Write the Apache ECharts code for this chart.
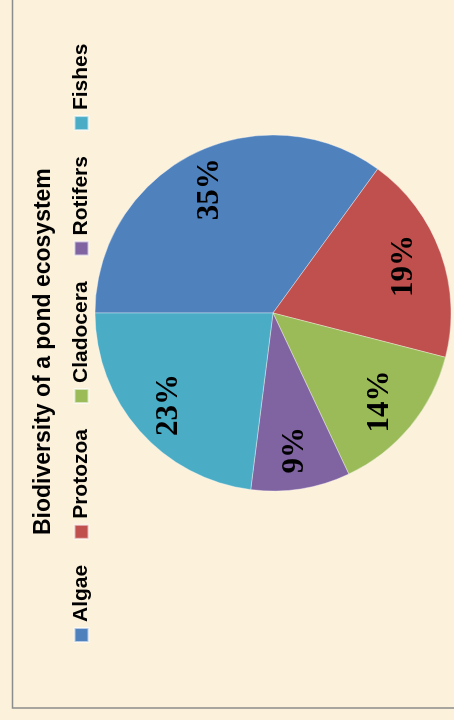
<!DOCTYPE html>
<html>
<head>
<meta charset="utf-8">
<script src="https://cdn.jsdelivr.net/npm/echarts@6/dist/echarts.min.js"></script>
<style>
  html, body { margin: 0; padding: 0; width: 454px; height: 720px; overflow: hidden; background: #fcf1da; }
  /* the chart is laid out landscape (720x454) and turned a quarter turn counter-clockwise */
  #chart {
    position: absolute; left: 0; top: 0;
    width: 720px; height: 454px;
    transform-origin: 0 0;
    transform: rotate(-90deg) translate(-720px, 0);
  }
</style>
</head>
<body>
<div id="chart"></div>
<script>
// Share of organisms found in a pond (percent)
const categories = ['Algae', 'Protozoa', 'Cladocera', 'Rotifers', 'Fishes'];
const shares = [35, 19, 14, 9, 23];
const sliceColors = ['#4f81bd', '#c0504d', '#9bbb59', '#8064a2', '#4bacc6'];
const chartTitle = 'Biodiversity of a pond ecosystem';

const pieData = categories.map((name, i) => ({
  name: name,
  value: shares[i],
  itemStyle: { color: sliceColors[i] }
}));

const chart = echarts.init(document.getElementById('chart'), null, { renderer: 'canvas' });

const center = [407, 273];
const outerR = 178;

chart.setOption({
  backgroundColor: 'transparent',
  animation: false,
  graphic: [{
    type: 'rect',
    silent: true,
    shape: { x: 12, y: 12.5, width: 900, height: 600 },
    style: { fill: 'none', stroke: '#8c8c8c', lineWidth: 1.5 }
  }],
  title: {
    text: chartTitle,
    left: 185,
    top: 32,
    padding: 0,
    textStyle: {
      fontFamily: '"Liberation Sans", Arial, sans-serif',
      fontWeight: 'bold',
      fontSize: 23,
      color: '#000'
    }
  },
  legend: {
    data: categories,
    orient: 'horizontal',
    left: 77,
    top: 71,
    padding: 0,
    itemWidth: 14,
    itemHeight: 14,
    itemGap: 25,
    icon: 'rect',
    selectedMode: false,
    textStyle: {
      fontFamily: '"Liberation Sans", Arial, sans-serif',
      fontWeight: 'bold',
      fontSize: 21,
      color: '#000',
      padding: [0, 0, 0, 1]
    }
  },
  series: [
    {
      name: 'slices',
      type: 'pie',
      center: center,
      radius: [0, outerR],
      startAngle: 90,
      clockwise: true,
      silent: true,
      label: { show: false },
      labelLine: { show: false },
      itemStyle: { borderColor: 'rgba(255,255,255,0.6)', borderWidth: 0.6 },
      data: pieData
    },
    {
      // transparent ring used only to place the value labels at ~3/4 of the radius
      name: 'labels',
      type: 'pie',
      center: center,
      radius: [94, outerR],
      startAngle: 90,
      clockwise: true,
      silent: true,
      itemStyle: { color: 'rgba(0,0,0,0)', borderWidth: 0 },
      labelLine: { show: false },
      label: {
        show: true,
        position: 'inside',
        formatter: '{c}%',
        fontFamily: '"Liberation Serif", "Times New Roman", serif',
        fontWeight: 'bold',
        fontSize: 31,
        color: '#000'
      },
      data: categories.map((name, i) => ({ name: name, value: shares[i] }))
    }
  ]
});
</script>
</body>
</html>
